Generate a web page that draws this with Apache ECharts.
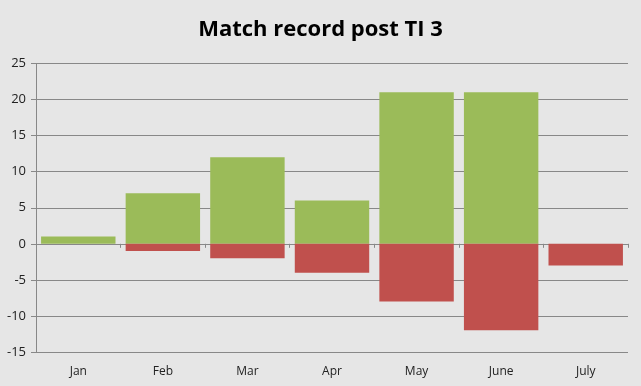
<!DOCTYPE html>
<html><head><meta charset="utf-8">
<script src="https://cdn.jsdelivr.net/npm/echarts@6/dist/echarts.min.js"></script>
<style>html,body{margin:0;padding:0;background:#e6e6e6}#c{width:641px;height:386px}</style>
</head><body><div id="c"></div>
<script>
const categories = ['Jan','Feb','Mar','Apr','May','June','July'];
const wins = [1, 7, 12, 6, 21, 21, 0];
const losses = [0, -1, -2, -4, -8, -12, -3];
const yTicks = [-15, -10, -5, 0, 5, 10, 15, 20, 25];

const chart = echarts.init(document.getElementById('c'));
chart.setOption({
  backgroundColor: '#e6e6e6',
  animation: false,
  title: {
    text: 'Match record post TI 3', left: 'center', top: 14,
    textStyle: { fontFamily: 'Open Sans', fontWeight: 'bold', fontSize: 22, color: '#000' }
  },
  grid: { left: 36, right: 13, top: 63.5, bottom: 34, containLabel: false },
  xAxis: [{
    type: 'category', data: categories, position: 'bottom',
    axisLine: { show: false, onZero: false }, axisTick: { show: false },
    axisLabel: { margin: 14, fontFamily: 'Open Sans', fontSize: 12, color: '#222' }
  }, {
    type: 'category', data: categories, position: 'bottom',
    axisLine: { show: true, onZero: true, lineStyle: { color: '#888', width: 1 } },
    axisTick: { show: true, length: 4, lineStyle: { color: '#888' } },
    axisLabel: { show: false }
  }],
  yAxis: {
    type: 'value', min: yTicks[0], max: yTicks[yTicks.length - 1], interval: 5,
    axisLine: { show: true, lineStyle: { color: '#888' } },
    axisTick: { show: true, length: 5, lineStyle: { color: '#888' } },
    splitLine: { lineStyle: { color: '#888', width: 1 } },
    axisLabel: { margin: 10, fontFamily: 'Open Sans', fontSize: 13, color: '#222' }
  },
  series: [{
    type: 'bar', name: 'Wins', data: wins, stack: 'r', xAxisIndex: 0,
    barCategoryGap: '12%', itemStyle: { color: '#9bbb59' }
  }, {
    type: 'bar', name: 'Losses', data: losses, stack: 'r', xAxisIndex: 0,
    barCategoryGap: '12%', itemStyle: { color: '#c0504d' }
  }]
});
</script></body></html>
